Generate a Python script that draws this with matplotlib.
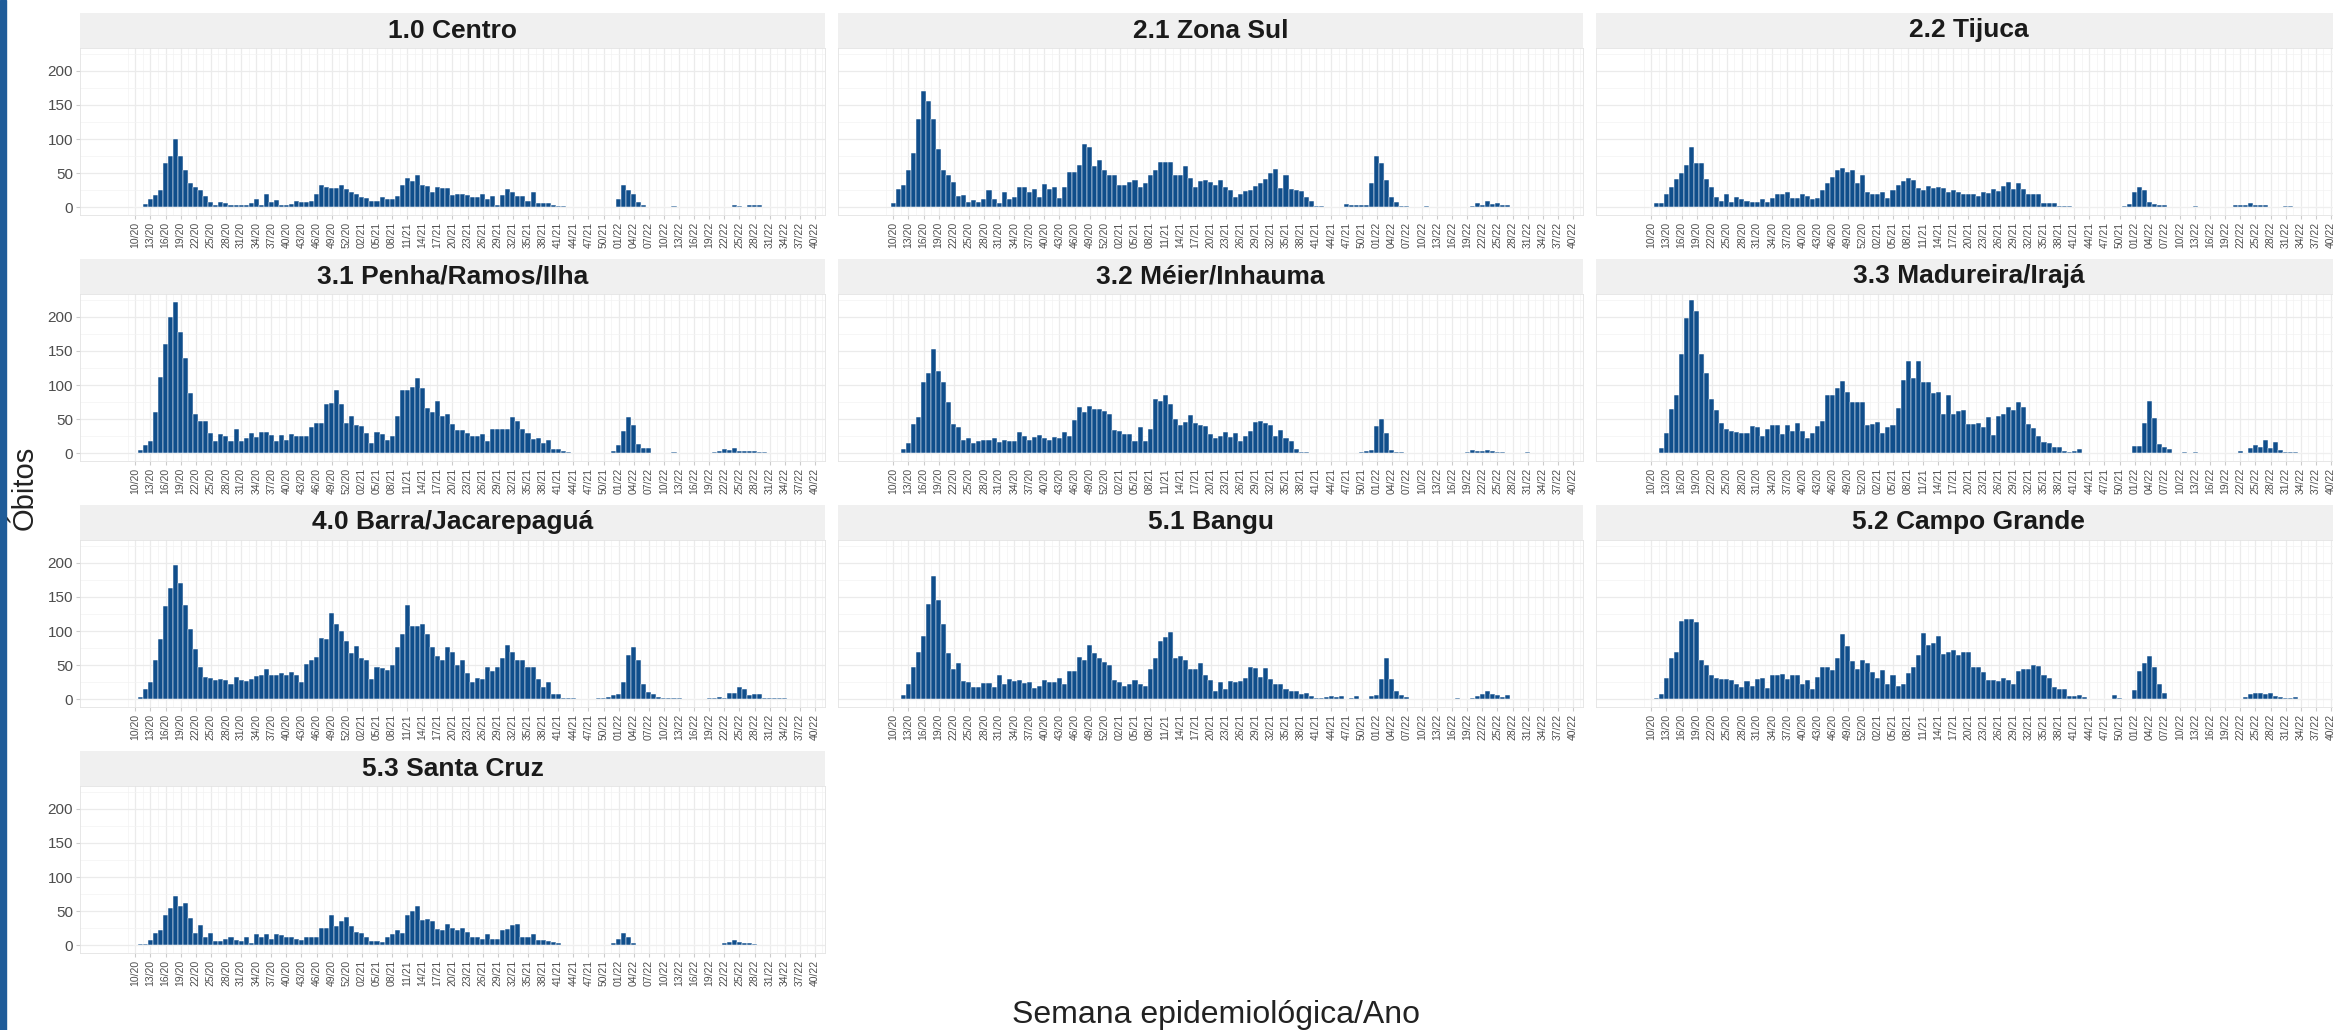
import numpy as np
import matplotlib
matplotlib.use("Agg")
import matplotlib.pyplot as plt
from matplotlib.patches import Rectangle

# epidemiological weeks shown on the x axis: 10/20 .. 40/22
week_labels = ([f"{w:02d}/20" for w in range(10, 54)] +
               [f"{w:02d}/21" for w in range(1, 53)] +
               [f"{w:02d}/22" for w in range(1, 41)])

regions = ["1.0 Centro", "2.1 Zona Sul", "2.2 Tijuca",
           "3.1 Penha/Ramos/Ilha", "3.2 Méier/Inhauma", "3.3 Madureira/Irajá",
           "4.0 Barra/Jacarepaguá", "5.1 Bangu", "5.2 Campo Grande",
           "5.3 Santa Cruz"]

# weekly deaths per area, one value per week label
centro = [0, 0, 5, 12, 18, 26, 65, 75, 100, 75, 55, 36,
          30, 25, 16, 8, 4, 8, 7, 4, 4, 3, 4, 6,
          13, 3, 20, 8, 11, 4, 3, 5, 10, 8, 8, 10,
          20, 33, 30, 28, 29, 33, 27, 22, 20, 15, 14, 9,
          9, 15, 13, 13, 17, 33, 43, 38, 47, 33, 32, 22,
          30, 28, 28, 18, 20, 20, 18, 15, 15, 20, 13, 16,
          3, 18, 27, 22, 17, 17, 10, 23, 6, 6, 6, 3,
          2, 2, 1, 1, 0, 1, 1, 0, 1, 1, 0, 1,
          12, 33, 26, 20, 8, 4, 1, 0, 1, 1, 0, 2,
          0, 0, 0, 1, 0, 0, 0, 1, 0, 0, 0, 4,
          2, 0, 4, 3, 3, 0, 0, 0, 0, 0, 0, 0,
          0, 0, 0, 0]
zona_sul = [7, 27, 33, 55, 80, 130, 170, 155, 130, 85, 55, 47,
            37, 17, 18, 8, 11, 8, 13, 25, 12, 7, 22, 12,
            15, 30, 30, 22, 27, 15, 34, 27, 30, 14, 30, 52,
            52, 62, 92, 88, 60, 70, 55, 47, 48, 33, 33, 37,
            40, 30, 35, 47, 55, 66, 66, 66, 47, 47, 60, 43,
            30, 38, 40, 37, 33, 40, 30, 25, 15, 20, 24, 25,
            32, 36, 42, 50, 56, 28, 47, 27, 25, 24, 15, 9,
            2, 2, 1, 1, 0, 0, 5, 3, 3, 3, 4, 36,
            75, 65, 40, 15, 8, 2, 2, 1, 1, 0, 2, 1,
            0, 0, 0, 1, 0, 0, 0, 2, 6, 4, 10, 5,
            7, 4, 3, 1, 1, 1, 0, 0, 0, 0, 0, 0,
            0, 0, 0, 0]
tijuca = [0,
          7, 7, 20, 30, 42, 50, 62, 88, 65, 65,
          42, 30, 15, 10, 20, 8, 15, 12, 10, 8,
          8, 12, 8, 14, 19, 19, 22, 14, 14, 20,
          17, 13, 14, 25, 35, 45, 55, 57, 52, 55,
          35, 47, 22, 20, 20, 23, 14, 25, 33, 38,
          43, 40, 28, 25, 32, 28, 30, 28, 22, 26,
          22, 20, 20, 20, 17, 22, 21, 27, 24, 32,
          37, 27, 35, 27, 20, 20, 20, 7, 7, 7,
          2, 2, 2,
          0, 0, 0, 0, 0, 0, 1, 1, 0, 0, 2, 5,
          22, 30, 25, 8, 5, 3, 3, 0, 0, 0, 1, 0,
          2, 1, 0, 0, 0, 0, 0, 1, 3, 3, 3, 7,
          3, 3, 3, 0, 0, 0, 2, 2, 0, 0, 0, 0,
          0, 0, 0, 0]
penha = [0,
         5, 12, 18, 60, 112, 160, 200, 222, 178, 140, 88, 57,
         47, 47, 30, 18, 28, 26, 18, 35, 18, 22, 30, 24,
         32, 32, 27, 18, 27, 20, 28, 25, 25, 25, 38, 44,
         44, 72, 73, 92, 72, 45, 54, 41, 40, 30, 15, 31,
         29, 20, 25, 54, 93, 92, 97, 110, 95, 67, 60, 76,
         54, 58, 43, 34, 34, 30, 25, 26, 29, 18, 35, 35,
         35, 35, 53, 47, 36, 30, 21, 22, 15, 19, 7, 6,
         3, 2, 1, 1, 1, 1, 0, 1, 0, 0, 3, 12,
         33, 53, 42, 14, 8, 8, 0, 1, 0, 0, 2, 0,
         0, 0, 1, 0, 0, 0, 2, 4, 6, 5, 8, 4,
         3, 3, 3, 2, 2, 0, 1, 0, 1, 0, 0, 0,
         0, 0, 0]
meier = [1, 0, 7, 15, 43, 53, 105, 117, 152, 120, 105, 75,
         43, 38, 20, 22, 15, 18, 20, 19, 22, 16, 20, 18,
         18, 32, 26, 20, 24, 27, 23, 19, 24, 22, 32, 25,
         49, 68, 60, 69, 65, 65, 62, 58, 34, 33, 29, 29,
         18, 38, 18, 35, 80, 77, 85, 72, 50, 41, 46, 56,
         45, 41, 40, 28, 23, 25, 31, 24, 30, 18, 25, 33,
         46, 48, 44, 42, 26, 34, 22, 18, 7, 2, 2, 1,
         1, 0, 0, 1, 1, 1, 0, 0, 1, 2, 4, 5,
         40, 50, 30, 5, 2, 2, 1, 1, 1, 1, 1, 1,
         1, 0, 0, 1, 0, 0, 2, 5, 4, 3, 5, 3,
         2, 2, 1, 0, 0, 0, 2, 0, 0, 0, 1, 0,
         0, 0, 0, 0]
madureira = [1, 0, 8, 30, 65, 85, 145, 198, 225, 208, 145, 118,
             80, 63, 45, 35, 33, 32, 30, 30, 40, 38, 25, 35,
             42, 42, 28, 42, 33, 45, 33, 22, 30, 40, 48, 85,
             85, 95, 106, 90, 75, 75, 75, 42, 43, 46, 30, 38,
             42, 67, 107, 135, 110, 135, 105, 105, 88, 90, 58, 85,
             58, 62, 64, 43, 43, 45, 38, 53, 27, 55, 58, 68,
             63, 75, 68, 43, 37, 25, 17, 15, 10, 10, 3, 2,
             3, 6, 1, 1, 1, 0, 0, 0, 1, 1, 1, 1,
             11, 11, 45, 77, 52, 14, 9, 6, 1, 1, 2, 1,
             2, 1, 0, 1, 0, 1, 0, 1, 0, 3, 1, 8,
             12, 10, 20, 8, 17, 5, 2, 2, 2, 0, 1, 0,
             0, 0, 0, 1]
barra = [0,
         3, 15, 25, 57, 88, 137, 163, 197, 170, 138, 103, 73,
         48, 33, 32, 28, 30, 29, 22, 33, 28, 27, 30, 34,
         36, 45, 36, 36, 38, 35, 40, 35, 25, 52, 58, 62,
         90, 88, 127, 110, 100, 85, 68, 78, 60, 58, 30, 48,
         46, 43, 50, 77, 96, 138, 108, 108, 110, 95, 76, 63,
         58, 77, 70, 50, 57, 38, 25, 31, 30, 48, 42, 48,
         60, 80, 70, 58, 57, 47, 47, 30, 18, 25, 8, 8,
         2, 2, 2, 0, 0, 0, 0, 2, 2, 4, 6, 8,
         25, 65, 77, 57, 22, 11, 8, 3, 2, 2, 2, 2,
         1, 1, 0, 0, 1, 2, 2, 4, 2, 10, 10, 18,
         15, 7, 8, 8, 2, 2, 2, 2, 2, 0, 0, 0,
         0, 0, 1]
bangu = [1, 1, 6, 23, 48, 70, 93, 140, 180, 145, 110, 68,
         45, 53, 27, 25, 18, 18, 24, 24, 18, 35, 22, 30,
         27, 28, 24, 25, 17, 20, 28, 25, 25, 32, 22, 42,
         42, 62, 57, 80, 68, 60, 55, 50, 28, 26, 19, 22,
         28, 22, 19, 45, 60, 85, 91, 98, 60, 64, 58, 45,
         45, 53, 35, 28, 12, 25, 15, 27, 26, 27, 32, 48,
         46, 33, 46, 30, 22, 22, 15, 13, 13, 8, 10, 5,
         2, 2, 4, 5, 3, 5, 0, 2, 5, 1, 1, 5,
         6, 30, 60, 30, 12, 7, 3, 0, 1, 1, 0, 1,
         1, 1, 0, 0, 2, 0, 1, 2, 5, 8, 12, 8,
         7, 3, 6, 1, 1, 1, 1, 1, 0, 0, 0, 0,
         0, 1, 0, 0]
campo_grande = [0,
                2, 8, 32, 60, 70, 115, 117, 118, 113, 58, 50, 35,
                32, 30, 30, 28, 22, 18, 27, 20, 30, 32, 17, 35,
                36, 37, 30, 35, 35, 22, 28, 15, 33, 48, 48, 43,
                60, 95, 78, 56, 45, 58, 53, 40, 32, 43, 23, 35,
                20, 22, 38, 47, 65, 97, 80, 83, 92, 67, 70, 72,
                65, 70, 70, 48, 47, 40, 28, 28, 27, 32, 28, 22,
                42, 45, 45, 50, 49, 35, 32, 18, 15, 15, 5, 5,
                6, 3, 1, 1, 0, 0, 0, 6, 2, 1, 1, 14,
                42, 53, 63, 47, 23, 10, 1, 0, 0, 0, 1, 1,
                0, 0, 1, 1, 0, 1, 1, 0, 1, 3, 8, 10,
                10, 8, 10, 5, 4, 2, 2, 3, 1, 0, 0, 0,
                0, 1, 0]
santa_cruz = [0,
              2, 2, 8, 18, 22, 45, 55, 72, 58, 62, 40, 18,
              30, 13, 18, 6, 7, 10, 12, 8, 6, 12, 4, 17,
              12, 17, 10, 17, 15, 12, 12, 10, 8, 13, 12, 12,
              25, 26, 45, 28, 35, 42, 28, 20, 18, 13, 6, 6,
              5, 12, 16, 22, 18, 44, 50, 57, 37, 38, 36, 24,
              23, 31, 25, 23, 26, 20, 12, 12, 10, 16, 10, 9,
              22, 24, 30, 31, 13, 13, 16, 8, 8, 7, 5, 3,
              1, 1, 0, 0, 1, 0, 1, 1, 0, 0, 3, 10,
              18, 12, 3, 0, 0, 0, 0, 0, 1, 0, 0, 1,
              0, 0, 0, 0, 0, 0, 0, 0, 3, 5, 8, 5,
              3, 4, 2, 1, 1, 1, 1, 1, 0, 0, 0, 0,
              0, 0, 0]

series = [centro, zona_sul, tijuca, penha, meier, madureira,
          barra, bangu, campo_grande, santa_cruz]

plt.rcParams['font.family'] = ['Liberation Sans', 'DejaVu Sans']

W, H = 2333, 1030
fig = plt.figure(figsize=(W / 100, H / 100), dpi=100)


def px_axes(x, y, w, h):
    # place an axes using pixel coords measured from the top-left corner
    return fig.add_axes([x / W, 1 - (y + h) / H, w / W, h / H])


col_left = [80, 838, 1596]
row_top = [48, 294, 540, 786]
pw, ph, strip_h = 745, 167, 35
bar_color = "#104E8B"
x = np.arange(len(week_labels))

for i, (name, vals) in enumerate(zip(regions, series)):
    r, c = divmod(i, 3)
    ax = px_axes(col_left[c], row_top[r], pw, ph)
    ax.bar(x, vals, width=1.0, color=bar_color, edgecolor="white",
           linewidth=0.35, zorder=3)
    ax.set_xlim(-11, 137)
    ax.set_ylim(-11.1, 233.1)

    ax.set_xticks(x[::3])
    ax.set_xticklabels(week_labels[::3], rotation=90, fontsize=7.5,
                       color="#4D4D4D")
    ax.set_xticks(np.arange(-1.5, 137, 3), minor=True)
    ax.set_yticks([0, 50, 100, 150, 200])
    ax.set_yticks(np.arange(25, 233, 50), minor=True)
    ax.grid(which="major", color="#EBEBEB", linewidth=0.9)
    ax.grid(which="minor", color="#F3F3F3", linewidth=0.5)
    ax.set_axisbelow(True)
    ax.tick_params(which="major", length=3, color="#CCCCCC", pad=2)
    ax.tick_params(which="minor", length=0)
    ax.tick_params(axis="y", labelsize=11, labelcolor="#4D4D4D")
    if c > 0:
        ax.tick_params(axis="y", labelleft=False, length=0)
    for sp in ax.spines.values():
        sp.set_color("#E3E3E3")
        sp.set_linewidth(0.6)

    sax = px_axes(col_left[c], row_top[r] - strip_h, pw, strip_h)
    sax.set_facecolor("#F0F0F0")
    sax.set_xticks([])
    sax.set_yticks([])
    for sp in sax.spines.values():
        sp.set_visible(False)
    sax.text(0.5, 0.5, name, ha="center", va="center", fontsize=19,
             fontweight="bold", color="#1A1A1A", transform=sax.transAxes)

fig.text(25 / W, 1 - 488 / H, "Óbitos", rotation=90, fontsize=21,
         ha="center", va="center", color="#222222")
fig.text(1216 / W, 1 - 1015 / H, "Semana epidemiológica/Ano", fontsize=23,
         ha="center", va="center", color="#222222")

# dark blue frame on the left edge
fig.patches.append(Rectangle((0, 0), 6 / W, 1, transform=fig.transFigure,
                             color="#1F5C99", zorder=10))

fig.savefig("out.png", dpi=100)
